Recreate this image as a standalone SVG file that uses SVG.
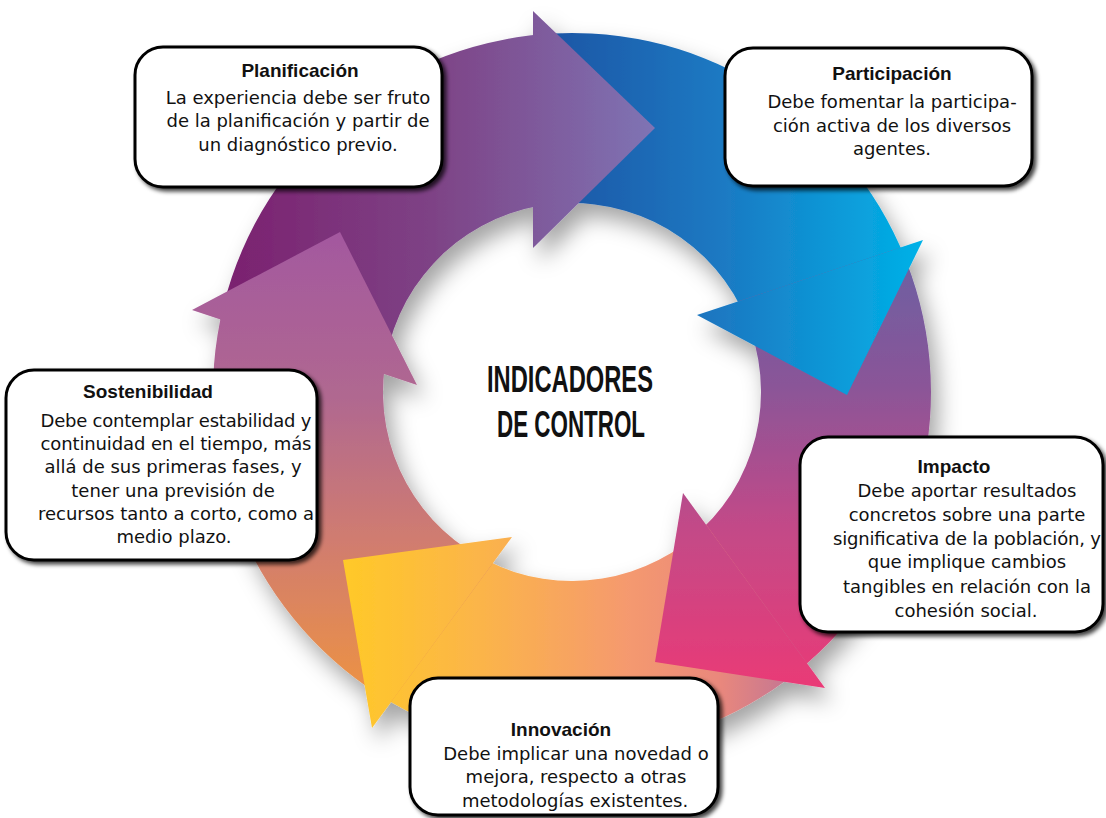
<svg xmlns="http://www.w3.org/2000/svg" width="1106" height="818" viewBox="0 0 1106 818">
<defs>
<style>
.box{fill:#fff;stroke:#000;stroke-width:3;filter:url(#bs)}
.t{font-family:"Liberation Sans",Arial,sans-serif;font-weight:bold;font-size:19px;fill:#111;text-anchor:middle}
.b{font-family:"DejaVu Sans",Verdana,sans-serif;font-size:18px;fill:#111;text-anchor:middle}
.c{font-family:"Liberation Sans Narrow","Liberation Sans",Arial,sans-serif;font-weight:bold;font-size:37px;fill:#111;text-anchor:middle}
</style>
<filter id="bs" x="-10%" y="-10%" width="125%" height="130%">
<feDropShadow dx="3" dy="3" stdDeviation="2" flood-color="#000" flood-opacity="0.75"/>
</filter>
<filter id="rs" x="-15%" y="-15%" width="135%" height="135%">
<feGaussianBlur in="SourceAlpha" stdDeviation="11"/>
<feOffset dx="7" dy="13" result="o"/>
<feFlood flood-color="#000" flood-opacity="0.36"/>
<feComposite in2="o" operator="in" result="s"/>
<feMerge><feMergeNode in="s"/><feMergeNode in="SourceGraphic"/></feMerge>
</filter>
<linearGradient id="gP" gradientUnits="userSpaceOnUse" x1="215" y1="0" x2="655" y2="0">
<stop offset="0" stop-color="#7a1f6e"/><stop offset="0.5" stop-color="#7e4386"/><stop offset="1" stop-color="#7f74b4"/>
</linearGradient>
<linearGradient id="gB" gradientUnits="userSpaceOnUse" x1="533" y1="0" x2="925" y2="0">
<stop offset="0" stop-color="#1f52a2"/><stop offset="0.5" stop-color="#1a7bc4"/><stop offset="1" stop-color="#00b2e8"/>
</linearGradient>
<linearGradient id="gR" gradientUnits="userSpaceOnUse" x1="0" y1="255" x2="0" y2="690">
<stop offset="0" stop-color="#6c60a2"/><stop offset="0.3" stop-color="#8a5598"/><stop offset="0.62" stop-color="#c24a88"/><stop offset="1" stop-color="#ea3a76"/>
</linearGradient>
<linearGradient id="gY" gradientUnits="userSpaceOnUse" x1="343" y1="0" x2="812" y2="0">
<stop offset="0" stop-color="#ffc928"/><stop offset="0.3" stop-color="#fbb44a"/><stop offset="0.6" stop-color="#f59a6e"/><stop offset="0.8" stop-color="#ea887c"/><stop offset="1" stop-color="#b8709a"/>
</linearGradient>
<linearGradient id="gL" gradientUnits="userSpaceOnUse" x1="0" y1="232" x2="0" y2="705">
<stop offset="0" stop-color="#a3589f"/><stop offset="0.35" stop-color="#b06890"/><stop offset="0.65" stop-color="#d07c70"/><stop offset="1" stop-color="#ef9440"/>
</linearGradient>
</defs>
<rect width="1106" height="818" fill="#fff"/>
<g id="connectors" filter="url(#rs)">
<path id="body-planificacion" fill="url(#gP)" d="M 220.4 319.5 A 359 359 0 0 1 545.5 34.0 L 539.5 205.8 A 189 189 0 0 0 383.9 374.0 Z"/>
<path id="body-participacion" fill="url(#gB)" d="M 533 35.1 A 359 359 0 0 1 905.4 259.0 L 740.9 307.2 A 189 189 0 0 0 533 207.1 Z"/>
<path id="body-impacto" fill="url(#gR)" d="M 900.6 247.4 A 359 359 0 0 1 797.4 671.4 L 701.5 529.6 A 189 189 0 0 0 737.9 301.4 Z"/>
<path id="body-innovacion" fill="url(#gY)" d="M 807.1 663.4 A 359 359 0 0 1 380.3 695.5 L 486.7 560.6 A 189 189 0 0 0 706.3 525.0 Z"/>
<path id="body-sostenibilidad" fill="url(#gL)" d="M 391 702 A 359 359 0 0 1 223.1 307.3 L 384.6 367.4 A 189 189 0 0 0 492.6 563.5 Z"/>
<polygon id="head-planificacion" fill="url(#gP)" points="533,11 655,128 533,248"/>
<polygon id="head-participacion" fill="url(#gB)" points="923,240 847,395 697,315"/>
<polygon id="head-impacto" fill="url(#gR)" points="825,688 655,662 683,493"/>
<polygon id="head-innovacion" fill="url(#gY)" points="372,728 343,560 512,537"/>
<polygon id="head-sostenibilidad" fill="url(#gL)" points="192,310 340,232 417,385"/>
</g>
<g id="center">
<text class="c" x="570" y="392" textLength="166" lengthAdjust="spacingAndGlyphs">INDICADORES</text>
<text class="c" x="571" y="437" textLength="148" lengthAdjust="spacingAndGlyphs">DE CONTROL</text>
</g>
<g id="planificacion">
<rect class="box" x="135" y="47" width="307" height="140" rx="28"/>
<text class="t" x="300" y="77">Planificación</text>
<text class="b" x="298" y="104">La experiencia debe ser fruto</text>
<text class="b" x="298" y="127">de la planificación y partir de</text>
<text class="b" x="298" y="151">un diagnóstico previo.</text>
</g>
<g id="participacion">
<rect class="box" x="725" y="48" width="307" height="138" rx="28"/>
<text class="t" x="892" y="80">Participación</text>
<text class="b" x="892" y="108">Debe fomentar la participa-</text>
<text class="b" x="892" y="132">ción activa de los diversos</text>
<text class="b" x="892" y="155">agentes.</text>
</g>
<g id="sostenibilidad">
<rect class="box" x="6" y="370" width="311" height="190" rx="28"/>
<text class="t" x="148" y="398">Sostenibilidad</text>
<text class="b" x="176" y="427" textLength="271" lengthAdjust="spacing">Debe contemplar estabilidad y</text>
<text class="b" x="176" y="450" textLength="271" lengthAdjust="spacing">continuidad en el tiempo, más</text>
<text class="b" x="173" y="473">allá de sus primeras fases, y</text>
<text class="b" x="173" y="497">tener una previsión de</text>
<text class="b" x="176" y="520" textLength="276" lengthAdjust="spacing">recursos tanto a corto, como a</text>
<text class="b" x="174" y="543">medio plazo.</text>
</g>
<g id="impacto">
<rect class="box" x="800" y="437" width="303" height="195" rx="28"/>
<text class="t" x="954" y="473">Impacto</text>
<text class="b" x="967" y="497">Debe aportar resultados</text>
<text class="b" x="967" y="521">concretos sobre una parte</text>
<text class="b" x="967" y="545" textLength="268" lengthAdjust="spacing">significativa de la población, y</text>
<text class="b" x="967" y="568">que implique cambios</text>
<text class="b" x="967" y="593">tangibles en relación con la</text>
<text class="b" x="966" y="617">cohesión social.</text>
</g>
<g id="innovacion">
<rect class="box" x="410" y="678" width="308" height="137" rx="28"/>
<text class="t" x="561" y="736">Innovación</text>
<text class="b" x="576" y="760">Debe implicar una novedad o</text>
<text class="b" x="576" y="783">mejora, respecto a otras</text>
<text class="b" x="575" y="807">metodologías existentes.</text>
</g>
</svg>
